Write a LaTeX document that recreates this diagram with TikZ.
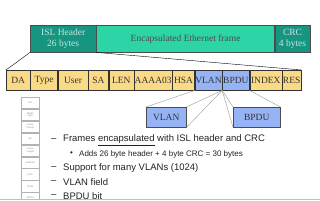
\documentclass[tikz,border=0pt]{standalone}
\usepackage{fontspec}
\setmainfont{Liberation Serif}
\newfontfamily\arialfont{Liberation Sans}
\usetikzlibrary{positioning,shadows}

\definecolor{islteal}{RGB}{22,150,128}
\definecolor{framegreen}{RGB}{45,212,165}
\definecolor{fieldyellow}{RGB}{250,218,135}
\definecolor{fieldblue}{RGB}{150,180,245}
\definecolor{islgray}{RGB}{200,230,220}
\definecolor{bullettext}{RGB}{35,35,35}

\tikzstyle{shade} = [drop shadow={shadow xshift=1.2pt, shadow yshift=-1.2pt, fill=black, opacity=0.8}]
\tikzstyle{hdr} = [rectangle, draw=black!70, fill=islteal, text=islgray, minimum height=27pt, inner sep=0pt, align=center, font=\fontsize{9.5}{11}\selectfont, anchor=north west, shade]
\tikzstyle{field} = [rectangle, draw=black!80, fill=fieldyellow, text=black!80, minimum height=20pt, inner sep=0pt, font=\fontsize{9.5}{10}\selectfont, shade]
\tikzstyle{vfield} = [field, fill=fieldblue]
\tikzstyle{zoombox} = [rectangle, draw=black!70, fill=fieldblue, text=black!80, minimum height=20pt, inner sep=0pt, font=\fontsize{9.5}{10}\selectfont, anchor=north west, shade]
\tikzstyle{callout} = [draw=black!40, line width=0.4pt]
\tikzstyle{tiny} = [rectangle, draw=black!30, fill=white, minimum width=18pt, minimum height=11.5pt, inner sep=0pt, align=center, text=black!45, font=\arialfont\fontsize{2.4}{2.8}\selectfont]
\tikzstyle{item} = [anchor=west, inner sep=0pt, text=bullettext, font=\arialfont\fontsize{9.5}{10}\selectfont]
\tikzstyle{subitem} = [item, font=\arialfont\fontsize{8}{9}\selectfont]

\begin{document}
\begin{tikzpicture}[x=1pt, y=-1pt]
	\useasboundingbox (0,0) rectangle (320,200);
	\fill[white] (0,0) rectangle (320,200);
	\clip (0,0) rectangle (320,199);
	% ISL frame
	\node[hdr, minimum width=66pt] (isl) at (30,25) {ISL Header\\26 bytes};
	\node[hdr, minimum width=178pt, fill=framegreen, text=black!70, right=0pt of isl] (frame) {Encapsulated Ethernet frame};
	\node[hdr, minimum width=35pt, right=0pt of frame] (crc) {CRC\\4 bytes};
	% header fields
	\node[field, minimum width=24pt, anchor=north west] (da) at (6,70) {DA};
	\node[field, minimum width=27pt, right=0pt of da] (type) {Type};
	\node[field, minimum width=30pt, right=0pt of type] (user) {User};
	\node[field, minimum width=20pt, right=0pt of user] (sa) {SA};
	\node[field, minimum width=25pt, right=0pt of sa] (len) {LEN};
	\node[field, minimum width=38pt, right=0pt of len] (aaaa) {AAAA03};
	\node[field, minimum width=22pt, right=0pt of aaaa] (hsa) {HSA};
	\node[vfield, minimum width=27pt, right=0pt of hsa] (vlan) {VLAN};
	\node[vfield, minimum width=27pt, right=0pt of vlan] (bpdu) {BPDU};
	\node[field, minimum width=32pt, right=0pt of bpdu] (index) {INDEX};
	\node[field, minimum width=19pt, right=0pt of index] (res) {RES};
	\draw (isl.south west) -- (da.north west);
	\draw (isl.south east) -- (res.north east);
	% zoomed fields
	\node[zoombox, minimum width=40pt] (vlanbox) at (146,107) {VLAN};
	\node[zoombox, minimum width=47pt] (bpdubox) at (233,107) {BPDU};
	\draw[callout] (vlan.south west) -- (vlanbox.north west);
	\draw[callout] (vlan.south east) -- (vlanbox.north east);
	\draw[callout] (vlan.south east) -- (vlanbox.south east);
	\draw[callout] (bpdu.south west) -- (bpdubox.north west);
	\draw[callout] (bpdu.south west) -- (bpdubox.south west);
	\draw[callout] (bpdu.south east) -- (bpdubox.north east);
	% small field column
	\node[tiny, anchor=north west] (c1) at (21,97) {DA};
	\node[tiny, below=0pt of c1] (c2) {Media\\Type};
	\node[tiny, below=0pt of c2] (c3) {Frame\\Priority};
	\node[tiny, below=0pt of c3] (c4) {SA};
	\node[tiny, below=0pt of c4] (c5) {Frame\\Length};
	\node[tiny, below=0pt of c5] (c6) {AAAA03};
	\node[tiny, below=0pt of c6] (c7) {HSA};
	\node[tiny, below=0pt of c7] (c8) {VLAN};
	\node[tiny, below=0pt of c8] (c9) {BPDU};
	% bullets
	\node[item] (d1) at (51,140) {–};
	\node[item] (t1) at (63,140) {Frames \underline{encapsulated} with ISL header and CRC};
	\node[subitem] (d2) at (70,154) {•};
	\node[subitem] (t2) at (79,154) {Adds 26 byte header + 4 byte CRC = 30 bytes};
	\node[item] (d3) at (51,168) {–};
	\node[item] (t3) at (63,168) {Support for many VLANs (1024)};
	\node[item] (d4) at (51,182) {–};
	\node[item] (t4) at (63,182) {VLAN field};
	\node[item] (d5) at (51,196) {–};
	\node[item] (t5) at (63,196) {BPDU bit};
	\draw[black!25] (0,199) -- (320,199);
\end{tikzpicture}
\end{document}
